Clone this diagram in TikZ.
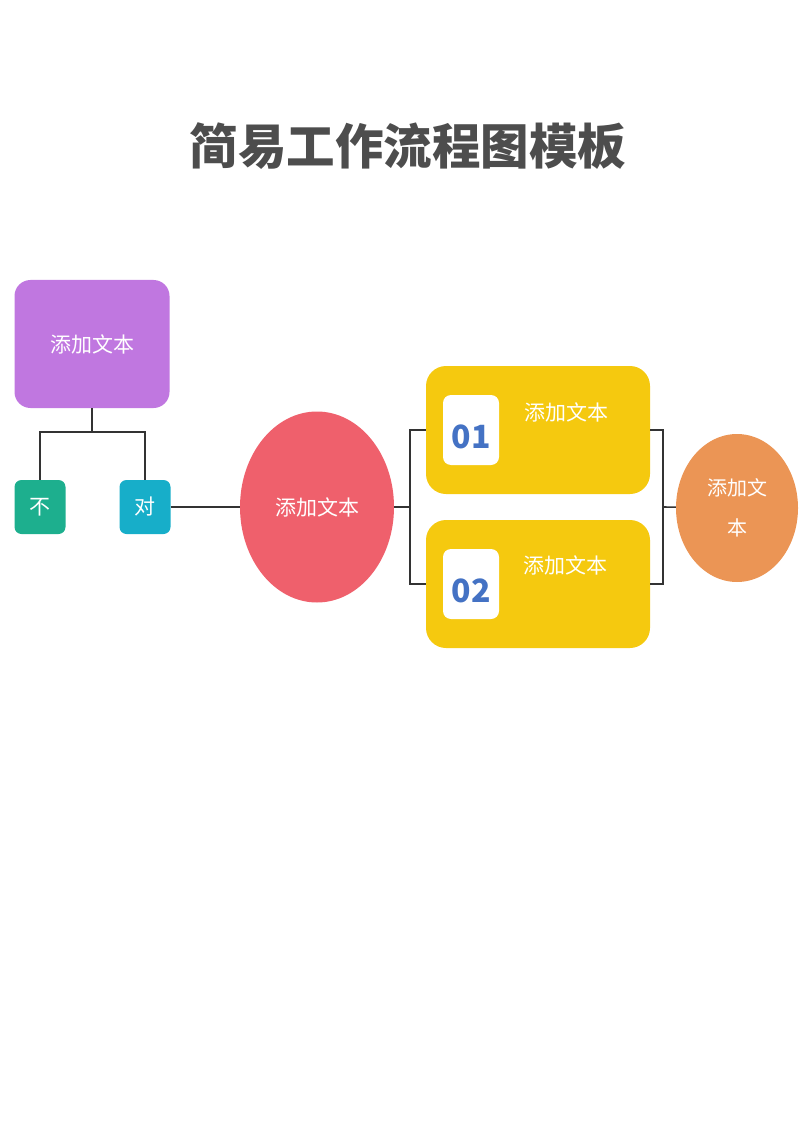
\documentclass[tikz,border=0pt]{standalone}
\usepackage{fontspec}
\setmainfont{Noto Sans CJK SC}
\usetikzlibrary{shapes.geometric}
\definecolor{titlegray}{HTML}{4D4D4D}
\definecolor{startpurple}{HTML}{C077E0}
\definecolor{nogreen}{HTML}{1DAF8E}
\definecolor{yesblue}{HTML}{17AEC9}
\definecolor{midred}{HTML}{EF606C}
\definecolor{stepyellow}{HTML}{F5C90F}
\definecolor{endorange}{HTML}{EB9555}
\definecolor{numblue}{HTML}{4472C4}
\definecolor{linegray}{HTML}{333333}
\tikzset{
  box/.style={draw=none, text=white, inner sep=0pt, font=\fontsize{21}{25}\selectfont},
  oval/.style={box, ellipse},
  numbox/.style={fill=white, rounded corners=8pt, inner sep=0pt, minimum width=56pt,
    minimum height=70pt, text height=36pt, text depth=0pt, text=numblue,
    font=\fontsize{32}{38}\selectfont\bfseries},
  link/.style={draw=linegray, line width=1.6pt}
}
\begin{document}
\begin{tikzpicture}[x=1pt, y=-1pt]
  \useasboundingbox (0,0) rectangle (800,1131);
  \node[text=titlegray, font=\fontsize{48.5}{56}\selectfont\bfseries] (title) at (408,146) {简易工作流程图模板};
  % left part
  \node[box, fill=startpurple, rounded corners=16pt, minimum width=155pt, minimum height=128pt] (start) at (92,344) {添加文本};
  \node[box, fill=nogreen, rounded corners=7pt, minimum width=51pt, minimum height=54pt] (no) at (40,507) {不};
  \node[box, fill=yesblue, rounded corners=7pt, minimum width=51pt, minimum height=54pt] (yes) at (145,507) {对};
  \node[oval, fill=midred, minimum width=154pt, minimum height=191pt] (mid) at (317,507) {添加文本};
  % steps
  \node[box, fill=stepyellow, rounded corners=20pt, minimum width=224pt, minimum height=128pt] (step1) at (538,430) {};
  \node[box, fill=stepyellow, rounded corners=20pt, minimum width=224pt, minimum height=128pt] (step2) at (538,584) {};
  \node[numbox] (num1) at (471,430) {01};
  \node[numbox] (num2) at (471,584) {02};
  \node[box] (text1) at (566,412) {添加文本};
  \node[box] (text2) at (565,565) {添加文本};
  \node[oval, fill=endorange, minimum width=122pt, minimum height=148pt, align=center,
    font=\fontsize{20}{40}\selectfont] (end) at (737,508) {添加文\\本};
  % connectors
  \coordinate (fork) at (92,432);
  \coordinate (lsplit) at (410,507);
  \coordinate (rsplit) at (663,507);
  \draw[link] (start) -- (fork);
  \draw[link] (no.north) |- (fork) -| (yes.north);
  \draw[link] (yes) -- (mid);
  \draw[link] (mid.east) -- (lsplit);
  \draw[link] (step1.west) -| (lsplit) |- (step2.west);
  \draw[link] (step1.east) -| (rsplit) |- (step2.east);
  \draw[link] (rsplit) -- (end);
\end{tikzpicture}
\end{document}
